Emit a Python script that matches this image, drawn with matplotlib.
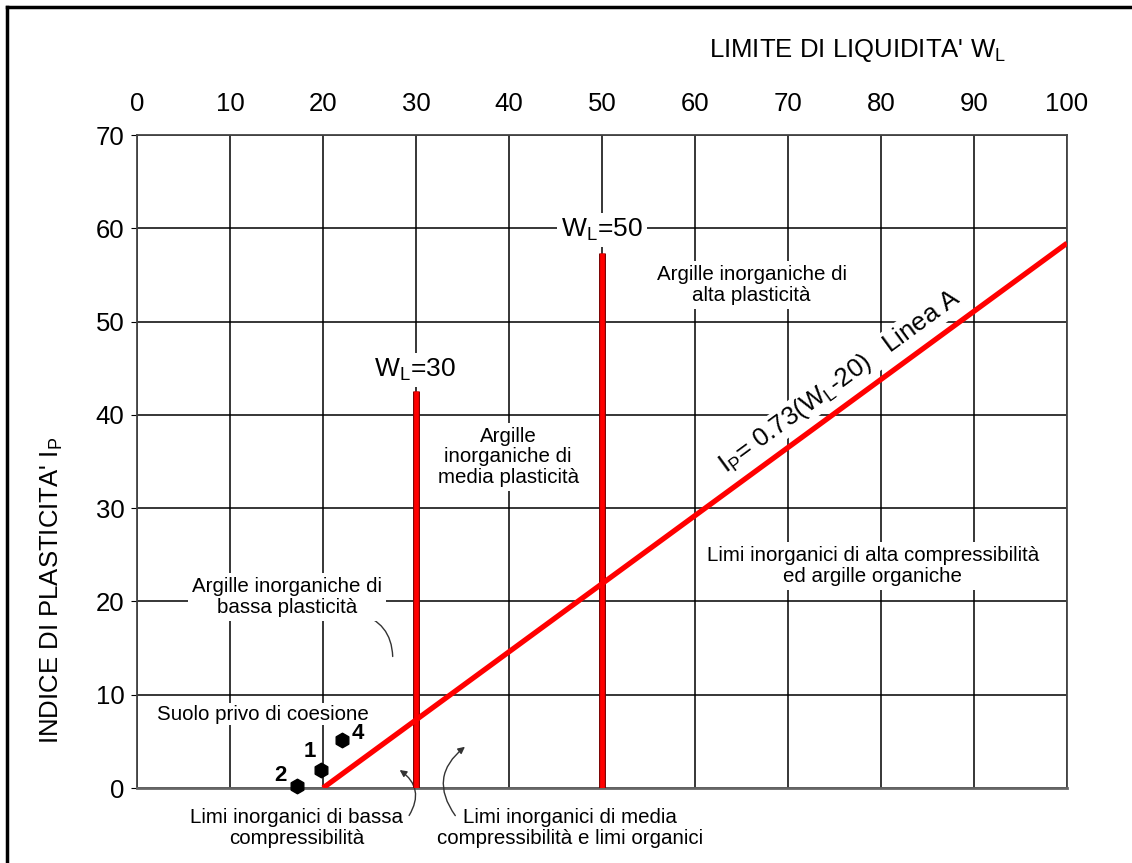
import numpy as np
import matplotlib
matplotlib.use("Agg")
import matplotlib.pyplot as plt
import matplotlib.patheffects as pe
from matplotlib.lines import Line2D

plt.rcParams['font.family'] = ['Liberation Sans', 'DejaVu Sans']
plt.rcParams['mathtext.fontset'] = 'custom'
plt.rcParams['mathtext.rm'] = 'Liberation Sans'

# data
x_ticks = np.arange(0, 101, 10)
y_ticks = np.arange(0, 71, 10)
wl_limits = [30, 50]          # vertical boundaries
wl_tops = [42.6, 57.4]        # height reached by each boundary
lineA_wl = np.array([20, 100])
lineA_ip = 0.73 * (lineA_wl - 20)
pt_labels = ["2", "1", "4"]
pt_wl = [17.2, 19.8, 22.0]
pt_ip = [0.2, 1.9, 5.1]

fig = plt.figure(figsize=(11.32, 8.63), dpi=100)
ax = fig.add_axes([137/1132, 75/863, 930/1132, 653/863])
ax.set_xlim(0, 100)
ax.set_ylim(0, 70)
ax.set_xticks(x_ticks)
ax.set_yticks(y_ticks)
ax.xaxis.tick_top()
ax.tick_params(axis='x', length=0, pad=14, labelsize=18.5)
ax.tick_params(axis='y', length=4, pad=5, labelsize=18.5)
ax.grid(True, color='black', lw=1.1)
ax.set_axisbelow(True)
for s in ax.spines.values():
    s.set_color('#444444')
    s.set_linewidth(1.3)
ax.spines['bottom'].set_linewidth(2)
ax.spines['bottom'].set_color('#666666')

# boundaries (drawn above the white text boxes)
for wl, top in zip(wl_limits, wl_tops):
    ax.plot([wl, wl], [0, top], color='red', lw=3.4, solid_capstyle='butt', zorder=8,
            path_effects=[pe.Stroke(linewidth=5.0, foreground='#7a0000'), pe.Normal()])
ax.plot(lineA_wl, lineA_ip, color='red', lw=3.8, solid_capstyle='butt', zorder=8)

ax.scatter(pt_wl, pt_ip, s=110, color='black', marker='h', zorder=9, clip_on=False)
lab_off = [(-1.8, 1.1), (-1.2, 2.0), (1.7, 0.7)]
for lab, x, y, (dx, dy) in zip(pt_labels, pt_wl, pt_ip, lab_off):
    ax.text(x + dx, y + dy, lab, fontsize=16, fontweight='bold', ha='center', va='center', zorder=9)

box = dict(facecolor='white', edgecolor='none', pad=3)
fs = 14.8
ax.text(29.9, 44.8, r"$\mathregular{W_L}$=30", fontsize=19, ha='center', va='center', bbox=box, zorder=6)
ax.text(50.0, 59.8, r"$\mathregular{W_L}$=50", fontsize=19, ha='center', va='center', bbox=box, zorder=6)
ax.text(66.1, 53.9, "Argille inorganiche di\nalta plasticità", fontsize=fs, ha='center', va='center',
        bbox=box, zorder=6, linespacing=1.1)
ax.text(39.9, 35.5, "Argille\ninorganiche di\nmedia plasticità", fontsize=fs, ha='center', va='center',
        bbox=box, zorder=6, linespacing=1.1)
ax.text(79.1, 23.8, "Limi inorganici di alta compressibilità\ned argille organiche", fontsize=fs,
        ha='center', va='center', bbox=box, zorder=6, linespacing=1.1)
ax.text(16.1, 20.5, "Argille inorganiche di\nbassa plasticità", fontsize=fs, ha='center', va='center',
        bbox=box, zorder=6, linespacing=1.1)
ax.text(13.5, 7.9, "Suolo privo di coesione", fontsize=fs, ha='center', va='center',
        bbox=dict(facecolor='white', edgecolor='none', pad=1), zorder=6)
ax.text(17.2, -4.3, "Limi inorganici di bassa\ncompressibilità", fontsize=fs, ha='center', va='center',
        zorder=6, linespacing=1.1, clip_on=False)
ax.text(46.6, -4.3, "Limi inorganici di media\ncompressibilità e limi organici", fontsize=fs,
        ha='center', va='center', zorder=6, linespacing=1.1, clip_on=False)
ax.text(75.6, 43.6, r"$\mathregular{I_P}$= 0.73($\mathregular{W_L}$-20)   Linea A", fontsize=18.5,
        ha='center', va='center', rotation=36.2, rotation_mode='anchor',
        bbox=dict(facecolor='white', edgecolor='none', pad=1), zorder=6)

# leader curves
ax.annotate("", xy=(27.5, 13.8), xytext=(23.5, 18.8),
            arrowprops=dict(arrowstyle='-', lw=1, color='#333333', connectionstyle='arc3,rad=-0.4'))
ax.annotate("", xy=(28.0, 2.1), xytext=(29.1, -3.2), annotation_clip=False,
            arrowprops=dict(arrowstyle='-|>', lw=1, color='#333333', mutation_scale=10,
                            connectionstyle='arc3,rad=0.5'))
ax.annotate("", xy=(35.5, 4.6), xytext=(34.4, -3.2), annotation_clip=False,
            arrowprops=dict(arrowstyle='-|>', lw=1, color='#333333', mutation_scale=10,
                            connectionstyle='arc3,rad=-0.5'))

fig.text(857/1132, 1 - 50/863, r"LIMITE DI LIQUIDITA' $\mathregular{W_L}$", fontsize=18.5,
         ha='center', va='center')
fig.text(52/1132, 1 - 590/863, r"INDICE DI PLASTICITA' $\mathregular{I_P}$", fontsize=18.5,
         ha='center', va='center', rotation=90)

# outer frame (left and top edges)
fig.add_artist(Line2D([7/1132, 7/1132], [0, 1 - 7/863], color='black', lw=2.5))
fig.add_artist(Line2D([7/1132, 1], [1 - 7/863, 1 - 7/863], color='black', lw=2.5))

fig.savefig("out.png", dpi=100)
